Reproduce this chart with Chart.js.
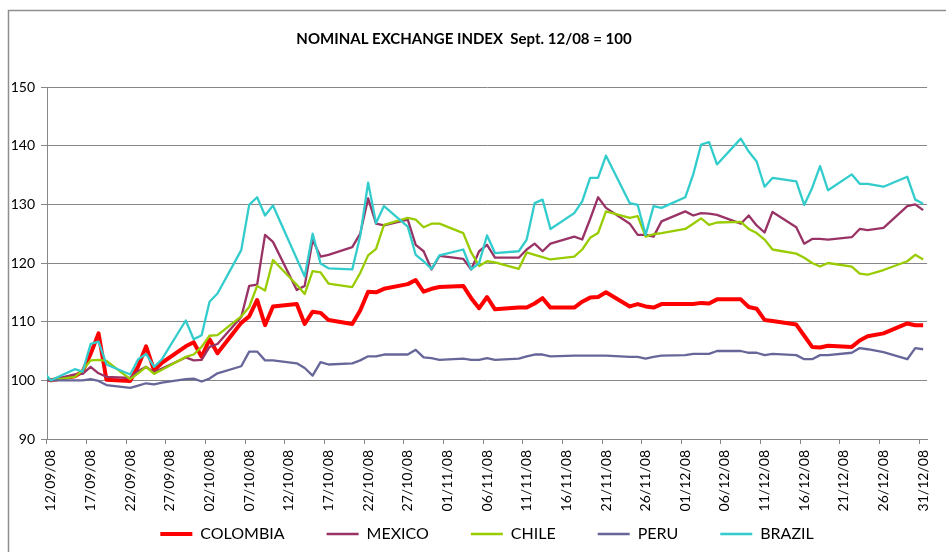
<!DOCTYPE html>
<html>
<head>
<meta charset="utf-8">
<script src="https://cdn.jsdelivr.net/npm/chart.js@4/dist/chart.umd.min.js"></script>
<style>
html,body{margin:0;padding:0;background:#fff;}
#wrap{width:946px;height:552px;position:relative;}
</style>
</head>
<body>
<div id="wrap"><canvas id="c" width="946" height="552"></canvas></div>
<script>
// ---- data ----
const chartTitle = 'NOMINAL EXCHANGE INDEX  Sept. 12/08 = 100';
const axisStart = '12/09/08';
const axisEnd = '31/12/08';
const tickLabels = ['12/09/08','17/09/08','22/09/08','27/09/08','02/10/08','07/10/08','12/10/08','17/10/08',
  '22/10/08','27/10/08','01/11/08','06/11/08','11/11/08','16/11/08','21/11/08','26/11/08','01/12/08',
  '06/12/08','11/12/08','16/12/08','21/12/08','26/12/08','31/12/08'];
const tradeDates = ['11/09/08','12/09/08',
  '15/09/08','16/09/08','17/09/08','18/09/08','19/09/08',
  '22/09/08','23/09/08','24/09/08','25/09/08','26/09/08',
  '29/09/08','30/09/08','01/10/08','02/10/08','03/10/08',
  '06/10/08','07/10/08','08/10/08','09/10/08','10/10/08',
  '13/10/08','14/10/08','15/10/08','16/10/08','17/10/08',
  '20/10/08','21/10/08','22/10/08','23/10/08','24/10/08',
  '27/10/08','28/10/08','29/10/08','30/10/08','31/10/08',
  '03/11/08','04/11/08','05/11/08','06/11/08','07/11/08',
  '10/11/08','11/11/08','12/11/08','13/11/08','14/11/08',
  '17/11/08','18/11/08','19/11/08','20/11/08','21/11/08',
  '24/11/08','25/11/08','26/11/08','27/11/08','28/11/08',
  '01/12/08','02/12/08','03/12/08','04/12/08','05/12/08',
  '08/12/08','09/12/08','10/12/08','11/12/08','12/12/08',
  '15/12/08','16/12/08','17/12/08','18/12/08','19/12/08',
  '22/12/08','23/12/08','24/12/08','26/12/08',
  '29/12/08','30/12/08','31/12/08'];
const colombia = [100.3,100,
  100.7,101.5,104.5,108.0,100.1,
  99.9,102.4,105.8,101.7,103.0,
  105.8,106.5,104.0,107.0,104.6,
  109.8,110.9,113.7,109.4,112.6,
  113.0,109.6,111.7,111.5,110.3,
  109.6,111.9,115.1,115.0,115.6,
  116.4,117.1,115.1,115.6,115.9,
  116.1,114.0,112.3,114.2,112.1,
  112.4,112.4,113.1,114.0,112.4,
  112.4,113.4,114.1,114.2,115.0,
  112.6,113.0,112.6,112.4,113.0,
  113.0,113.0,113.2,113.1,113.8,
  113.8,112.5,112.2,110.3,110.1,
  109.5,107.6,105.7,105.6,105.9,
  105.7,106.8,107.5,108.0,
  109.7,109.4,109.4];
const mexico = [100.4,100,
  101.0,101.1,102.3,101.2,100.6,
  100.4,101.6,102.3,101.4,102.0,
  103.9,103.4,103.5,105.7,106.2,
  110.8,116.1,116.3,124.8,123.6,
  115.4,116.1,123.9,121.1,121.4,
  122.7,125.0,131.0,126.7,126.4,
  127.4,123.1,122.0,118.9,121.2,
  120.7,118.9,122.0,123.1,120.9,
  120.9,122.3,123.3,122.0,123.3,
  124.5,124.0,127.5,131.2,129.4,
  126.7,124.8,124.8,124.5,127.1,
  128.8,128.1,128.5,128.4,128.2,
  126.7,128.1,126.4,125.2,128.7,
  126.1,123.3,124.1,124.1,124.0,
  124.4,125.8,125.6,126.0,
  129.7,130.0,129.0];
const chile = [100.3,100,
  100.6,101.7,103.4,103.5,103.3,
  100.2,101.2,102.3,101.1,101.8,
  104.0,104.4,105.7,107.6,107.7,
  110.9,112.5,116.1,115.3,120.5,
  116.3,114.7,118.6,118.4,116.5,
  115.9,118.3,121.3,122.4,126.5,
  127.7,127.4,126.1,126.7,126.7,
  125.1,121.8,119.5,120.3,120.1,
  119.0,121.8,121.4,121.0,120.6,
  121.1,122.3,124.3,125.1,128.8,
  127.7,128.0,124.5,124.9,125.1,
  125.8,126.7,127.6,126.5,126.9,
  127.0,125.8,125.1,124.0,122.3,
  121.6,120.9,120.0,119.4,120.0,
  119.4,118.2,118.0,118.8,
  120.3,121.4,120.6];
const peru = [100.1,100,
  100.0,100.0,100.2,99.9,99.2,
  98.7,99.1,99.5,99.3,99.6,
  100.2,100.3,99.8,100.3,101.2,
  102.4,104.9,104.9,103.4,103.4,
  102.9,102.1,100.8,103.1,102.7,
  102.9,103.4,104.1,104.1,104.4,
  104.4,105.2,103.9,103.8,103.5,
  103.7,103.5,103.5,103.8,103.5,
  103.7,104.1,104.4,104.4,104.1,
  104.2,104.2,104.2,104.2,104.2,
  104.0,104.0,103.7,104.0,104.2,
  104.3,104.5,104.5,104.5,105.0,
  105.0,104.7,104.7,104.3,104.5,
  104.3,103.6,103.6,104.3,104.3,
  104.7,105.5,105.3,104.8,
  103.6,105.5,105.3];
const brazil = [101.5,100,
  101.9,101.5,106.2,106.6,102.7,
  101.0,103.6,104.5,102.3,103.6,
  110.2,107.0,107.7,113.4,114.8,
  122.2,129.9,131.2,128.1,129.8,
  null,117.7,125.0,119.9,119.1,
  118.9,124.6,133.7,126.8,129.7,
  126.2,121.4,120.3,119.0,121.3,
  122.3,118.9,120.0,124.7,121.7,
  122.0,124.0,130.2,130.8,125.8,
  128.5,130.5,134.5,134.5,138.3,
  130.2,129.9,124.8,129.7,129.4,
  131.2,135.1,140.2,140.6,136.8,
  141.2,139.0,137.3,133.0,134.5,
  133.9,129.9,132.8,136.5,132.4,
  135.1,133.5,133.5,133.0,
  134.7,130.8,130.1];
const seriesNames = ['COLOMBIA','MEXICO','CHILE','PERU','BRAZIL'];
const seriesValues = [colombia, mexico, chile, peru, brazil];
const seriesColors = ['#FF0000','#993366','#99CC00','#666699','#33CCCC'];
const seriesWidths = [4, 2.3, 2.3, 2.3, 2.3];

// calendar-day category labels (one slot per day)
function fmt(d){
  const dd = String(d.getDate()).padStart(2,'0');
  const mm = String(d.getMonth()+1).padStart(2,'0');
  const yy = String(d.getFullYear()).slice(2);
  return dd+'/'+mm+'/'+yy;
}
const dayLabels = [];
for (let d = new Date(2008,8,11); d <= new Date(2008,11,31); d.setDate(d.getDate()+1)) dayLabels.push(fmt(d));

const datasets = seriesNames.map((name,k)=>({
  label: name,
  data: tradeDates.map((t,i)=>({x:t, y: seriesValues[k][i]})),
  borderColor: seriesColors[k],
  backgroundColor: seriesColors[k],
  borderWidth: seriesWidths[k],
  pointRadius: 0,
  tension: 0,
  spanGaps: true,
  order: seriesNames.length - k,
  borderJoinStyle: 'round'
}));

const GRID = '#878787';
const FONT = 'Lato';

const decor = {
  id: 'decor',
  beforeDraw(chart){
    const ctx = chart.ctx;
    ctx.save();
    ctx.fillStyle = '#fff';
    ctx.fillRect(0,0,chart.width,chart.height);
    ctx.strokeStyle = '#8f8f8f';
    ctx.lineWidth = 1.5;
    ctx.beginPath();
    ctx.moveTo(8.5, chart.height);
    ctx.lineTo(8.5, 10.5);
    ctx.lineTo(chart.width, 10.5);
    ctx.stroke();
    ctx.restore();
  },
  afterDraw(chart){
    const ctx = chart.ctx;
    ctx.save();
    ctx.fillStyle = '#000';
    ctx.font = 'bold 15px ' + FONT;
    ctx.textAlign = 'center';
    ctx.textBaseline = 'middle';
    ctx.fillText(chartTitle, 464, 39);
    ctx.restore();
  }
};

new Chart(document.getElementById('c'), {
  type: 'line',
  data: { labels: dayLabels, datasets },
  plugins: [decor],
  options: {
    responsive: false,
    animation: false,
    devicePixelRatio: 1,
    layout: { padding: { left: 0, right: 11, top: 87, bottom: 0 } },
    plugins: {
      title: { display: false },
      tooltip: { enabled: false },
      legend: {
        position: 'bottom',
        fullSize: false,
        labels: {
          usePointStyle: true,
          pointStyle: 'line',
          pointStyleWidth: 32,
          padding: 42,
          color: '#000',
          font: { family: FONT, size: 16 },
          sort: (a,b) => a.datasetIndex - b.datasetIndex
        }
      }
    },
    scales: {
      x: {
        type: 'category',
        min: axisStart,
        max: axisEnd,
        offset: true,
        grid: {
          display: true,
          drawOnChartArea: false,
          drawTicks: true,
          tickLength: 5,
          offset: true,
          tickColor: (c) => (c.index % 5 === 0) ? GRID : 'rgba(0,0,0,0)',
          tickWidth: 1
        },
        border: { display: true, color: GRID, width: 1 },
        ticks: {
          autoSkip: false,
          minRotation: 90,
          maxRotation: 90,
          padding: 6,
          color: '#000',
          font: { family: FONT, size: 14 },
          callback: function(v){ const l = this.getLabelForValue(v); return tickLabels.includes(l) ? l : ''; }
        },
        afterFit: (s) => { s.height = 45; s._computeLabelArea = () => undefined; }
      },
      y: {
        min: 90,
        max: 150,
        ticks: { stepSize: 10, color: '#000', font: { family: FONT, size: 14 }, padding: 6 },
        grid: { color: GRID, lineWidth: 1, drawTicks: true, tickLength: 6, tickColor: GRID },
        border: { display: true, color: GRID, width: 1 },
        afterFit: (s) => { s.width = 47; }
      }
    }
  }
});
</script>
</body>
</html>
